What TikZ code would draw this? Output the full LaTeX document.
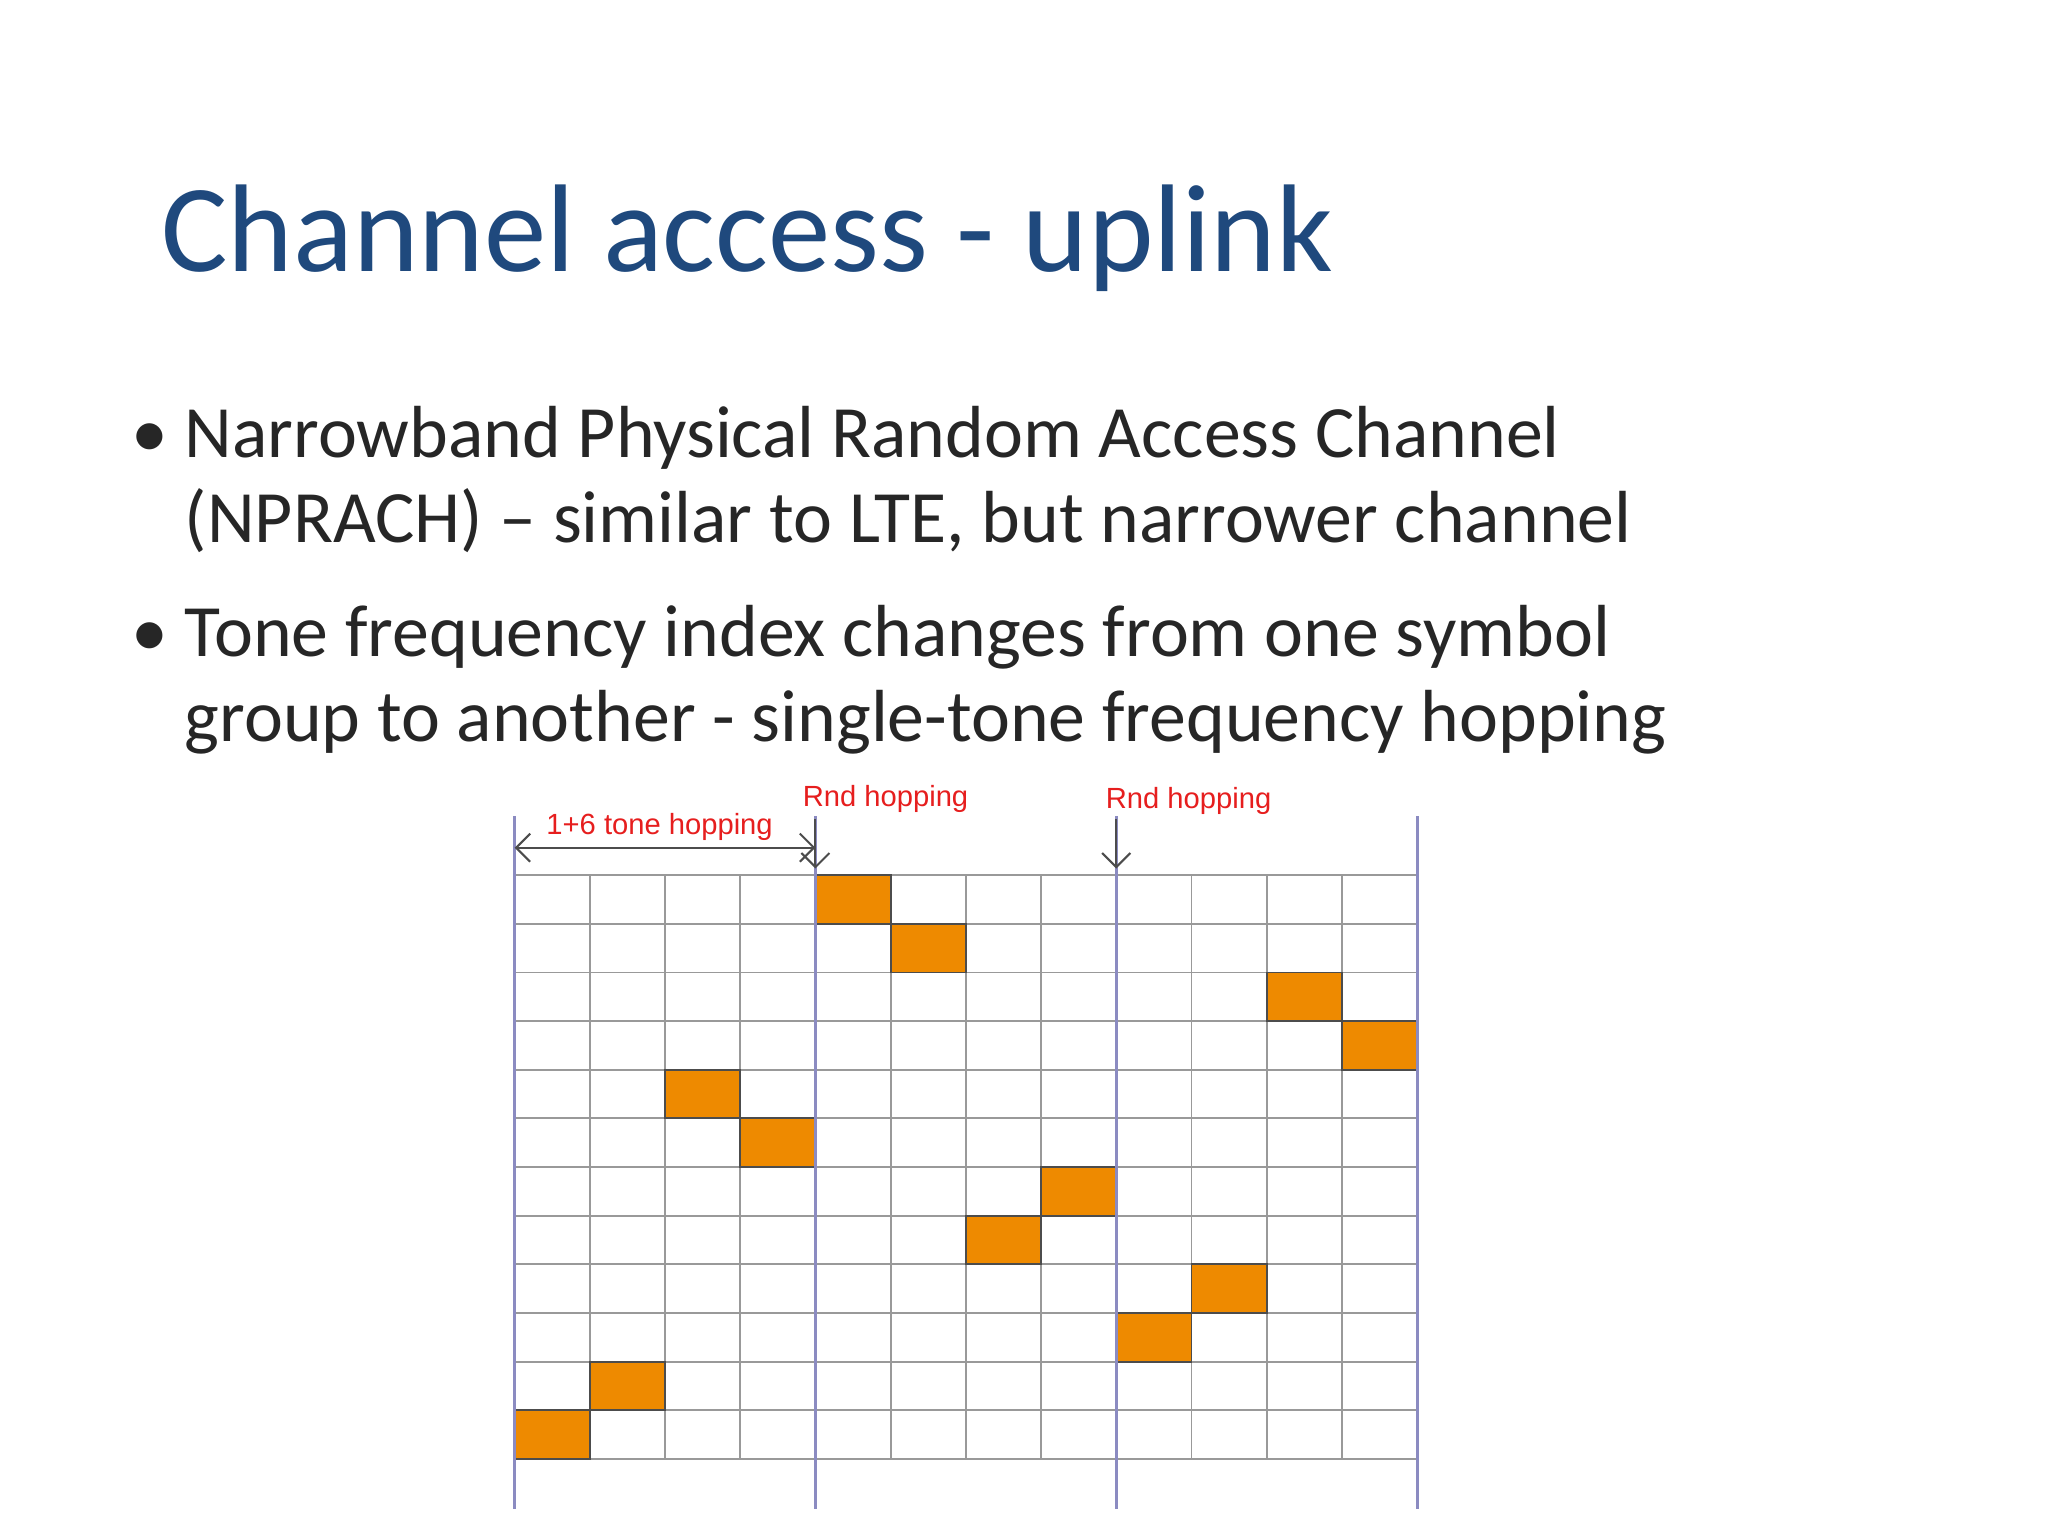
\documentclass[tikz,border=0pt]{standalone}
\usepackage{fontspec}
\setmainfont{Carlito}
\newfontfamily\lab{Liberation Sans}
\usetikzlibrary{arrows.meta}
\definecolor{ttl}{RGB}{31,73,125}
\definecolor{org}{RGB}{238,138,0}
\definecolor{lbl}{RGB}{230,30,30}
\begin{document}
\begin{tikzpicture}[x=0.0130612cm,y=-0.0130612cm,
  grid/.style={draw=gray!80,line width=0.5pt},
  blu/.style={draw=blue!30!gray!70,line width=0.8pt},
  red/.style={text=lbl,font=\lab\fontsize{8.3}{10}\selectfont,inner sep=1pt},
  arr/.style={draw=gray!60!black,line width=0.6pt,-{Straight Barb[length=4pt]}}]
\useasboundingbox (0,0) rectangle (1568,1176);
\node[anchor=base west,text=ttl,font=\fontsize{35.5}{40}\selectfont,inner sep=0] (title) at (123,208) {Channel access - uplink};
\begin{scope}[font=\fontsize{21}{26}\selectfont,text=black!85]
\node[anchor=base west,inner sep=0] (b1) at (100,350) {\textbullet};
\node[anchor=base west,inner sep=0] (t1) at (141,350) {Narrowband Physical Random Access Channel};
\node[anchor=base west,inner sep=0] (t1b) at (141,415) {(NPRACH) – similar to LTE, but narrower channel};
\node[anchor=base west,inner sep=0] (b2) at (100,503) {\textbullet};
\node[anchor=base west,inner sep=0] (t2) at (141,503) {Tone frequency index changes from one symbol};
\node[anchor=base west,inner sep=0] (t2b) at (141,568) {group to another - single-tone frequency hopping};
\end{scope}
\foreach \r/\c in {0/4,1/5,2/10,3/11,4/2,5/3,6/7,7/6,8/9,9/8,10/1,11/0}{
  \fill[org] (394+\c*57.58,670+\r*37.25) rectangle ++(57.58,37.25);
}
\foreach \i in {0,...,12}{
  \draw[grid] (394,670+\i*37.25) -- (1085,670+\i*37.25);
  \draw[grid] (394+\i*57.58,670) -- (394+\i*57.58,1117);
}
\foreach \r/\c in {0/4,1/5,2/10,3/11,4/2,5/3,6/7,7/6,8/9,9/8,10/1,11/0}{
  \draw[gray!60!black,line width=0.5pt] (394+\c*57.58,670+\r*37.25) rectangle ++(57.58,37.25);
}
\foreach \x in {394,624.3,854.6,1085}{
  \draw[blu] (\x,625) -- (\x,1155);
}
\coordinate (l) at (394,649); \coordinate (r) at (624.3,649);
\draw[draw=gray!60!black,line width=0.6pt,{Straight Barb[length=4pt]}-{Straight Barb[length=4pt]}] (l) -- (r);
\node[red] (h) at (505,633) {1+6 tone hopping};
\node[red] (r1) at (678,612) {Rnd hopping};
\node[red] (r2) at (910,613) {Rnd hopping};
\coordinate (a1) at (624.3,627); \coordinate (a1e) at (624.3,665);
\coordinate (a2) at (854.6,627); \coordinate (a2e) at (854.6,665);
\draw[arr] (a1) -- (a1e);
\draw[arr] (a2) -- (a2e);
\end{tikzpicture}
\end{document}
